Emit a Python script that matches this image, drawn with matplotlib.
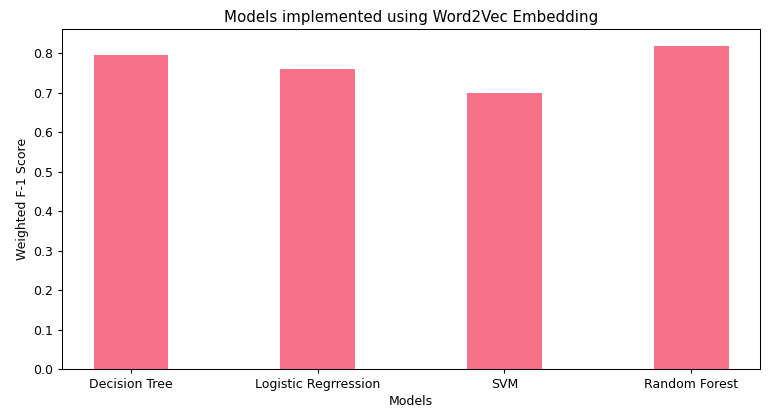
import matplotlib
matplotlib.use('Agg')
import matplotlib.pyplot as plt
import numpy as np

models = ['Decision Tree', 'Logistic Regrression', 'SVM', 'Random Forest']
f1_scores = [0.795, 0.760, 0.700, 0.819]

# the reference looks like a default figure shrunk by ~0.9
plt.rcParams['font.size'] = 9
plt.rcParams['xtick.major.size'] = 3.2
plt.rcParams['ytick.major.size'] = 3.2
plt.rcParams['axes.linewidth'] = 0.75

fig, ax = plt.subplots(figsize=(7.75, 4.13), dpi=100)
fig.subplots_adjust(left=0.08, right=0.981, top=0.9286, bottom=0.1065)

x = np.arange(len(models))
ax.bar(x, f1_scores, width=0.4, color='#f77189')
ax.set_xticks(x)
ax.set_xticklabels(models)
ax.set_xlabel('Models', labelpad=3)
ax.set_ylabel('Weighted F-1 Score', labelpad=3)
ax.set_title('Models implemented using Word2Vec Embedding', fontsize=10.8, pad=5.4)

plt.savefig('out.png', dpi=100)
plt.close()
